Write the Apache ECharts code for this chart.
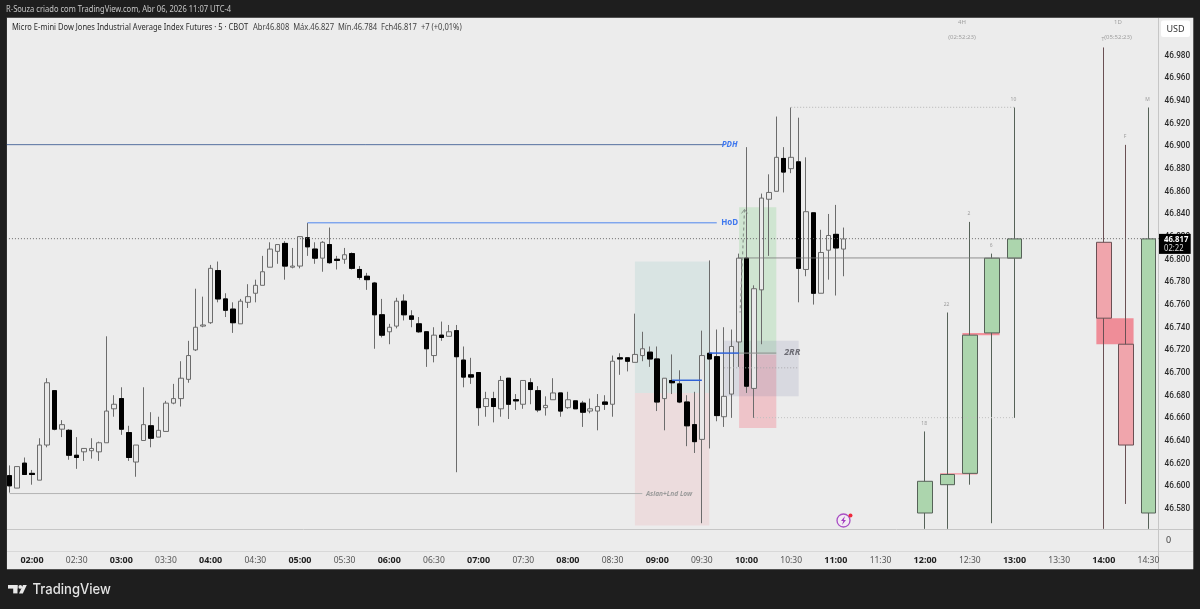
<!DOCTYPE html>
<html><head><meta charset="utf-8">
<style>html,body{margin:0;padding:0;background:#1e1e1e}#c{width:1200px;height:609px}</style>
<script src="https://cdn.jsdelivr.net/npm/echarts@6/dist/echarts.min.js"></script>
</head><body><div id="c"></div>
<script>
// ---- 5-minute candles, index 0 = 01:45 ----
const opens=[46.608,46.597,46.619,46.610,46.604,46.635,46.683,46.649,46.648,46.626,
46.629,46.630,46.629,46.637,46.667,46.676,46.646,46.620,46.639,46.652,
46.642,46.647,46.672,46.676,46.693,46.719,46.740,46.743,46.789,46.764,
46.755,46.742,46.761,46.769,46.776,46.792,46.806,46.813,46.792,46.793,
46.818,46.808,46.800,46.812,46.799,46.799,46.804,46.790,46.784,46.778,
46.750,46.735,46.740,46.762,46.749,46.742,46.735,46.714,46.732,46.731,
46.736,46.710,46.697,46.699,46.669,46.676,46.667,46.694,46.675,46.671,
46.690,46.683,46.668,46.675,46.681,46.668,46.674,46.672,46.665,46.665,
46.673,46.671,46.712,46.712,46.708,46.714,46.717,46.711,46.676,46.692,
46.689,46.673,46.653,46.640,46.716,46.713,46.660,46.680,46.726,46.800,
46.685,46.772,46.852,46.859,46.888,46.879,46.885,46.790,46.840,46.769,
46.807,46.821,46.808];
const closes=[46.599,46.616,46.609,46.609,46.635,46.690,46.649,46.653,46.626,46.624,
46.632,46.632,46.637,46.665,46.671,46.649,46.624,46.635,46.653,46.641,
46.648,46.672,46.676,46.694,46.714,46.739,46.741,46.791,46.764,46.754,
46.743,46.762,46.766,46.776,46.788,46.808,46.812,46.793,46.793,46.819,
46.810,46.800,46.814,46.796,46.798,46.803,46.791,46.783,46.781,46.750,
46.732,46.739,46.762,46.750,46.746,46.735,46.720,46.732,46.730,46.735,
46.713,46.695,46.695,46.668,46.676,46.669,46.692,46.671,46.674,46.692,
46.684,46.666,46.670,46.681,46.665,46.675,46.667,46.664,46.667,46.669,
46.671,46.709,46.711,46.709,46.715,46.720,46.711,46.673,46.694,46.690,
46.673,46.652,46.638,46.714,46.711,46.661,46.678,46.722,46.800,46.687,
46.773,46.853,46.858,46.889,46.876,46.889,46.791,46.841,46.769,46.805,
46.820,46.809,46.817];
const lows=[46.593,46.597,46.609,46.600,46.604,46.633,46.648,46.642,46.622,46.614,
46.621,46.623,46.621,46.637,46.660,46.644,46.621,46.607,46.639,46.633,
46.642,46.647,46.671,46.669,46.690,46.718,46.739,46.742,46.761,46.748,
46.734,46.742,46.756,46.761,46.776,46.792,46.795,46.781,46.791,46.791,
46.802,46.795,46.788,46.795,46.790,46.795,46.790,46.781,46.772,46.720,
46.730,46.724,46.738,46.745,46.739,46.734,46.704,46.708,46.727,46.731,
46.611,46.686,46.689,46.652,46.660,46.655,46.660,46.658,46.666,46.667,
46.671,46.664,46.661,46.675,46.660,46.667,46.667,46.651,46.663,46.648,
46.666,46.660,46.697,46.700,46.708,46.709,46.704,46.665,46.648,46.680,
46.672,46.634,46.628,46.566,46.632,46.656,46.651,46.659,46.704,46.681,
46.659,46.724,46.802,46.859,46.858,46.875,46.761,46.784,46.759,46.769,
46.781,46.767,46.784];
const highs=[46.617,46.616,46.624,46.613,46.641,46.694,46.683,46.657,46.649,46.642,
46.632,46.641,46.638,46.731,46.679,46.686,46.652,46.635,46.686,46.664,
46.660,46.674,46.689,46.709,46.727,46.773,46.766,46.794,46.797,46.769,
46.761,46.764,46.777,46.781,46.802,46.814,46.812,46.815,46.809,46.819,
46.831,46.814,46.815,46.827,46.802,46.809,46.805,46.793,46.787,46.779,
46.764,46.742,46.765,46.768,46.754,46.748,46.735,46.739,46.744,46.741,
46.741,46.722,46.712,46.699,46.682,46.682,46.696,46.694,46.680,46.692,
46.694,46.687,46.678,46.694,46.681,46.682,46.674,46.674,46.676,46.680,
46.679,46.714,46.716,46.712,46.751,46.735,46.722,46.722,46.694,46.715,
46.701,46.679,46.682,46.736,46.798,46.737,46.739,46.737,46.804,46.898,
46.776,46.857,46.874,46.925,46.898,46.933,46.924,46.889,46.840,46.825,
46.839,46.847,46.827];

// ---- higher-timeframe candles on the right (lows cut off by the pane are read at its edge) ----
const htfSlots =[123,126,129,132,135,147,150,153];
const htfOpens =[46.575,46.600,46.610,46.734,46.800,46.814,46.724,46.575];
const htfCloses=[46.603,46.609,46.732,46.800,46.817,46.747,46.635,46.817];
const htfLows  =[46.561,46.561,46.600,46.566,46.659,46.561,46.583,46.561];
const htfHighs =[46.647,46.752,46.832,46.804,46.933,46.986,46.900,46.933];
const htfTags  =['18','22','2','6','10','T','F','M'];

// ---- drawn zones: [first slot, last slot, top price, bottom price] ----
const zoneRows=[[84,94,46.797,46.681],[84,94,46.681,46.564],[98,103,46.845,46.715],
 [98,103,46.715,46.650],[96,106,46.727,46.678],[125,130,46.610,46.609],[128,133,46.734,46.732],[146,151,46.747,46.724]];
const zoneColors=['#d9e4e3','#ecdcdd','#cfe5d1','#eec4c9','rgba(110,120,160,0.16)','#f4909b','#f4909b','rgba(240,125,138,0.85)'];

// ---- drawn levels: [first slot, last slot, price]; slot -1 / slot 155 run to the pane edges ----
const levelRows=[[-1,96,46.900],[40,95,46.831],[-1,155,46.817],[0,85,46.592],[89,93,46.692],[94,98,46.716],
 [98,103,46.716],[96,106,46.703],[98,136,46.800],[105,135,46.933],[100,135,46.659]];
const levelStyles=[
 {stroke:'#55709f',lineWidth:1},{stroke:'#4f86ee',lineWidth:1},{stroke:'#6b6b6b',lineWidth:1,lineDash:[1,2]},
 {stroke:'#b4b4b4',lineWidth:1},{stroke:'#2f62d8',lineWidth:1.5},{stroke:'#2f62d8',lineWidth:1.5},
 {stroke:'#8d8d8d',lineWidth:1},{stroke:'#a9a9ad',lineWidth:1,lineDash:[1,2]},{stroke:'rgba(120,120,120,0.8)',lineWidth:1},
 {stroke:'#b5b5b5',lineWidth:1,lineDash:[1,2]},{stroke:'#c0c0c0',lineWidth:1,lineDash:[1,2]}];

// ---- text on the chart: [slot, price, text] ----
const noteRows=[[97,46.900,'PDH'],[97,46.831,'HoD'],[89,46.592,'Asian+Lnd Low'],[105,46.717,'2RR']];

const startMinutes=105, slotCount=155;
const categories=[];
for(let i=0;i<slotCount;i++){const m=startMinutes+i*5;categories.push(String(Math.floor(m/60)).padStart(2,'0')+':'+String(m%60).padStart(2,'0'));}

const candleRows=opens.map((o,i)=>[i,o,closes[i],lows[i],highs[i]]);
const downBodies=candleRows.filter(r=>r[2]<r[1]).map(r=>[r[0],r[1],r[2],r[2],r[1]]);
const htfRows=htfSlots.map((s,i)=>[s,htfOpens[i],htfCloses[i],htfLows[i],htfHighs[i]]);

const FONT='"Noto Sans",Roboto,sans-serif';
const chart=echarts.init(document.getElementById('c'),null,{renderer:'canvas'});

function zoneItem(p,api){const r=zoneRows[p.dataIndex];const a=api.coord([r[0],r[2]]),b=api.coord([r[1],r[3]]);
 return{type:'rect',shape:{x:a[0],y:a[1],width:b[0]-a[0],height:b[1]-a[1]},style:{fill:zoneColors[p.dataIndex]},silent:true};}
function levelItem(p,api){const r=levelRows[p.dataIndex];const a=api.coord([Math.max(r[0],0),r[2]]),b=api.coord([Math.min(r[1],slotCount-1),r[2]]);
 const x1=r[0]<0?p.coordSys.x:a[0],x2=r[1]>=slotCount?p.coordSys.x+p.coordSys.width:b[0];
 const y=a[1]-0.2;
 return{type:'line',shape:{x1:x1,y1:y,x2:x2,y2:y},style:levelStyles[p.dataIndex],silent:true};}
const noteStyles=[
 {fill:'#3f78ee',font:'italic bold 8px '+FONT},{fill:'#3f78ee',font:'bold 8px '+FONT},
 {fill:'#9a9a9a',font:'italic bold 6.6px '+FONT},{fill:'#6c6c74',font:'italic bold 9px '+FONT}];
const noteShift=[0,0,-1,3];
function noteItem(p,api){const r=noteRows[p.dataIndex];const a=api.coord([r[0],r[1]]);
 return{type:'text',x:a[0]+noteShift[p.dataIndex]-2,y:a[1],style:Object.assign({text:r[2],textAlign:'center',textVerticalAlign:'middle'},noteStyles[p.dataIndex]),silent:true};}
function tagItem(p,api){const r=htfRows[p.dataIndex];const a=api.coord([r[0],r[4]]);
 return{type:'text',x:a[0]-1,y:a[1]-8,style:{text:htfTags[p.dataIndex],textAlign:'center',textVerticalAlign:'middle',fill:'#9c9c9c',font:'5px '+FONT},silent:true};}
function arrowItem(p,api){const a=api.coord([99,46.843]),b=api.coord([98,46.752]);
 return{type:'group',silent:true,children:[
  {type:'line',shape:{x1:a[0]-2,y1:a[1],x2:b[0]+1,y2:b[1]},style:{stroke:'#8e9a90',lineWidth:1.2,lineDash:[3,3]}},
  {type:'polyline',shape:{points:[[a[0]-5,a[1]+4],[a[0]-2,a[1]],[a[0]+1,a[1]+4]]},style:{stroke:'#8e9a90',lineWidth:1,fill:null}}]};}
function priceTag(p,api){const c=closes[closes.length-1];const a=api.coord([slotCount-1,c]);
 return{type:'group',silent:true,children:[
  {type:'rect',shape:{x:1159,y:a[1]-5,width:31.7,height:20},style:{fill:'#000'}},
  {type:'text',x:1164,y:a[1]+0.5,scaleX:.86,style:{text:c.toFixed(3),textVerticalAlign:'middle',fill:'#fff',font:'bold 9px '+FONT}},
  {type:'text',x:1164,y:a[1]+10,scaleX:.9,style:{text:'02:22',textVerticalAlign:'middle',fill:'#d8d8d8',font:'8.5px '+FONT}}]};}

const customBase={type:'custom',xAxisIndex:0,yAxisIndex:0,silent:true,animation:false,encode:{x:0,y:1}};
const t=(x,y,text,fill,font,extra)=>Object.assign({type:'text',z:20,silent:true,x:x,y:y,style:Object.assign({text:text,textVerticalAlign:'middle',fill:fill,font:font},extra&&extra.style||{})},extra&&extra.el||{});

chart.setOption({
 animation:false,backgroundColor:'#1e1e1e',
 grid:{left:5.95,top:18,width:7.443*slotCount,height:512,containLabel:false,show:false},
 xAxis:{type:'category',data:categories,boundaryGap:true,
  axisLine:{show:false},axisTick:{show:false},splitLine:{show:false},
  axisLabel:{margin:26,hideOverlap:false,
   interval:(i,n)=>n.endsWith(':00')||n.endsWith(':30'),
   formatter:v=>v.endsWith(':00')?'{h|'+v+'}':'{m|'+v+'}',
   rich:{h:{fontFamily:FONT,fontWeight:'bold',fontSize:9,color:'#1f1f1f'},m:{fontFamily:FONT,fontSize:8.5,color:'#555'}}}},
 yAxis:{type:'value',position:'right',min:46.56,max:47.012,interval:0.02,
  axisLine:{show:false},axisTick:{show:false},splitLine:{show:false},
  axisLabel:{margin:5,color:'#2a2a2a',fontFamily:'Roboto,"Noto Sans",sans-serif',fontSize:8.2,fontWeight:500,verticalAlign:'top',lineHeight:3,
   formatter:v=>(v>46.99||v<46.57)?'':v.toFixed(3)}},
 graphic:{elements:[
  {type:'rect',z:-10,silent:true,shape:{x:6.7,y:17.7,width:1186.6,height:551.6},style:{fill:'#ececec'}},
  {type:'rect',z:100,silent:true,shape:{x:0,y:18,width:6.7,height:552},style:{fill:'#1e1e1e'}},
  {type:'line',z:-9,silent:true,shape:{x1:7,y1:529.5,x2:1193,y2:529.5},style:{stroke:'#c6c6c6',lineWidth:1}},
  {type:'line',z:-9,silent:true,shape:{x1:7,y1:551.5,x2:1193,y2:551.5},style:{stroke:'#d8d8d8',lineWidth:1}},
  {type:'line',z:-9,silent:true,shape:{x1:1158.5,y1:18,x2:1158.5,y2:569},style:{stroke:'#c6c6c6',lineWidth:1}},
  t(6,9.5,'R-Souza criado com TradingView.com, Abr 06, 2026 11:07 UTC-4','#c8c8c8','8.5px '+FONT,{el:{scaleX:.89}}),
  t(12,27.5,'Micro E-mini Dow Jones Industrial Average Index Futures · 5 · CBOT','#2a2a2a','8.5px '+FONT,{el:{scaleX:.886}}),
  t(253,27.5,'Abr46.808  Máx.46.827  Mín.46.784  Fch46.817  +7 (+0,01%)','#444','8.5px '+FONT,{el:{scaleX:.89}}),
  {type:'rect',z:20,silent:true,shape:{x:1161,y:20.5,width:29,height:16.5,r:2},style:{fill:'#fff'}},
  Object.assign(t(1175.5,29,'USD','#333','9px '+FONT,{style:{textAlign:'center'}}),{z:21}),
  t(962,22.5,'4H','#a0a0a0','6px '+FONT,{style:{textAlign:'center'}}),
  t(962,37.5,'(02:52:23)','#a0a0a0','6px '+FONT,{style:{textAlign:'center'}}),
  t(1118,22.5,'1D','#a0a0a0','6px '+FONT,{style:{textAlign:'center'}}),
  t(1118,37.5,'(05:52:23)','#a0a0a0','6px '+FONT,{style:{textAlign:'center'}}),
  t(1166,540.5,'0','#444','9px '+FONT),
  // lightning badge
  {type:'circle',z:20,silent:true,shape:{cx:843.5,cy:520.5,r:6.5},style:{fill:'#f2ebf3',stroke:'#a94fc4',lineWidth:1.3}},
  {type:'polygon',z:21,silent:true,shape:{points:[[845,516],[841,521],[843.3,521],[842,525],[846,520],[843.8,520]]},style:{fill:'#a23cc0'}},
  {type:'circle',z:22,silent:true,shape:{cx:850.5,cy:515.5,r:2},style:{fill:'#ee2a3c'}},
  // footer logo
  {type:'rect',z:20,silent:true,shape:{x:8,y:585,width:9.5,height:3.6},style:{fill:'#e8e8e8'}},
  {type:'rect',z:20,silent:true,shape:{x:13.2,y:585,width:4.3,height:8.4},style:{fill:'#e8e8e8'}},
  {type:'circle',z:20,silent:true,shape:{cx:20.3,cy:586.9,r:1.9},style:{fill:'#e8e8e8'}},
  {type:'polygon',z:20,silent:true,shape:{points:[[23,585],[26.8,585],[22.8,593.4],[19,593.4]]},style:{fill:'#e8e8e8'}},
  t(32.5,589.5,'TradingView','#e4e4e4','500 14.5px Inter,'+FONT,{el:{scaleX:.9}})
 ]},
 series:[
  Object.assign({},customBase,{name:'zones',z:1,data:zoneRows.map(r=>[r[0],r[2]]),renderItem:zoneItem}),
  {name:'5m',type:'candlestick',z:3,barWidth:5,animation:false,silent:true,encode:{x:0,y:[1,2,3,4]},data:candleRows,
   itemStyle:{color:'#e9e9e9',color0:'#000',borderColor:'#6c6c6c',borderColor0:'#6c6c6c',borderWidth:1}},
  {name:'5m down bodies',type:'candlestick',z:3,barWidth:5,animation:false,silent:true,encode:{x:0,y:[1,2,3,4]},data:downBodies,
   itemStyle:{color:'#000',color0:'#000',borderColor:'#000',borderColor0:'#000',borderWidth:1}},
  {name:'HTF',type:'candlestick',z:3,barWidth:15,animation:false,silent:true,encode:{x:0,y:[1,2,3,4]},data:htfRows,
   itemStyle:{color:'#acd5ad',color0:'#f0a5ac',borderColor:'#566258',borderColor0:'#6a5054',borderWidth:1}},
  Object.assign({},customBase,{name:'levels',z:4,data:levelRows.map(r=>[Math.max(r[0],0),r[2]]),renderItem:levelItem}),
  Object.assign({},customBase,{name:'arrow',z:4,data:[[99,46.843]],renderItem:arrowItem}),
  Object.assign({},customBase,{name:'notes',z:5,data:noteRows.map(r=>[r[0],r[1]]),renderItem:noteItem}),
  Object.assign({},customBase,{name:'tags',z:5,data:htfRows.map(r=>[r[0],r[4]]),renderItem:tagItem}),
  Object.assign({},customBase,{name:'last',z:7,data:[[slotCount-1,closes[closes.length-1]]],renderItem:priceTag})
 ]
});
</script></body></html>
